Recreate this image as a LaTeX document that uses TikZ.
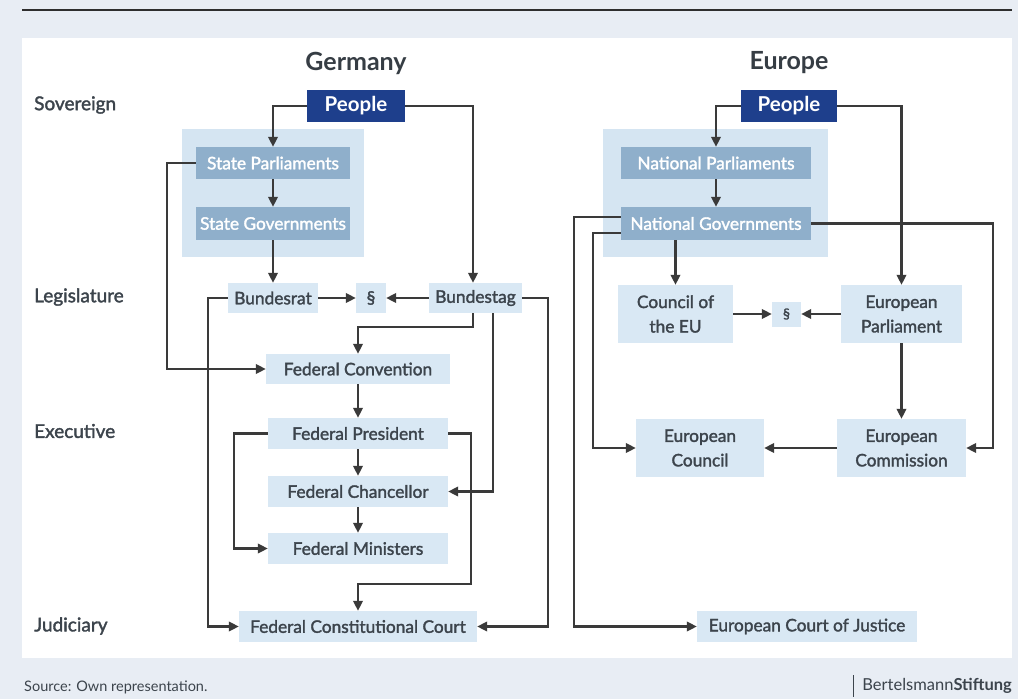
\documentclass[tikz,border=0pt]{standalone}
\usepackage{fontspec}
\setmainfont{Lato}
\newfontfamily\boxfont[FakeBold=1.8]{Lato}
\usetikzlibrary{arrows.meta}
\definecolor{bgc}{HTML}{E8EDF4}
\definecolor{groupc}{HTML}{D5E5F2}
\definecolor{nodec}{HTML}{D9E8F4}
\definecolor{midc}{HTML}{8FAFCB}
\definecolor{peoplec}{HTML}{1E3F8C}
\definecolor{textc}{HTML}{3C444C}
\definecolor{linec}{HTML}{3A3A3A}
\begin{document}
\begin{tikzpicture}[x=1pt,y=-1pt,
  conn/.style={draw=linec, line width=2.2pt},
  arr/.style={conn,-{Triangle[length=10pt,width=9.5pt]}},
  base/.style={inner sep=0pt, anchor=center, align=center},
  lbox/.style={base, fill=nodec, text=textc, font=\boxfont\fontsize{17.3}{24.5}\selectfont},
  mbox/.style={base, fill=midc, text=white, font=\boxfont\fontsize{17.3}{24}\selectfont},
  pbox/.style={base, fill=peoplec, text=white, font=\bfseries\fontsize{20.5}{22}\selectfont},
  title/.style={anchor=center, text=textc!90!black, font=\bfseries\fontsize{25}{28}\selectfont},
  rowlab/.style={anchor=west, inner sep=0pt, text=textc, font=\boxfont\fontsize{19}{22}\selectfont},
  group/.style={fill=groupc, draw=none}
]
\fill[bgc] (0,0) rectangle (1018,699);
\useasboundingbox (0,0) rectangle (1018,699);
\draw[linec!80!black, line width=2pt] (22,10) -- (1012,10);
\fill[white] (22,38) rectangle (1012,658);

% titles and rows
\node[title] (tG) at (356,63) {Germany};
\node[title] (tE) at (789,63) {Europe};
\node[rowlab] (r1) at (34,105) {Sovereign};
\node[rowlab] (r2) at (34,297) {Legislature};
\node[rowlab] (r3) at (34,431) {Executive};
\node[rowlab] (r4) at (34,626) {Judiciary};

% groups
\fill[groupc] (182,129) rectangle (364,257);
\fill[groupc] (603,129) rectangle (828,257);

% Germany
\node[pbox, minimum width=98pt, minimum height=32pt] (pG) at (356,106) {People};
\node[mbox, minimum width=154pt, minimum height=32pt] (sp) at (273,163) {State Parliaments};
\node[mbox, minimum width=154pt, minimum height=33pt] (sg) at (273,223.5) {State Governments};
\node[lbox, minimum width=90pt, minimum height=30pt] (br) at (273,298) {Bundesrat};
\node[lbox, minimum width=30pt, minimum height=30pt] (sG) at (371,298) {\S};
\node[lbox, minimum width=93pt, minimum height=30pt] (bt) at (475.5,298) {Bundestag};
\node[lbox, minimum width=184pt, minimum height=30pt] (fc) at (358,369) {Federal Convention};
\node[lbox, minimum width=180pt, minimum height=31pt] (fp) at (358,433.5) {Federal President};
\node[lbox, minimum width=180pt, minimum height=31pt] (fch) at (358,491.5) {Federal Chancellor};
\node[lbox, minimum width=180pt, minimum height=31pt] (fm) at (358,548.5) {Federal Ministers};
\node[lbox, minimum width=238pt, minimum height=31pt] (fcc) at (358,626.5) {Federal Constitutional Court};

% Europe
\node[pbox, minimum width=96pt, minimum height=32pt] (pE) at (789,106) {People};
\node[mbox, minimum width=190pt, minimum height=32pt] (np) at (716,163) {National Parliaments};
\node[mbox, minimum width=190pt, minimum height=33pt] (ng) at (716,223.5) {National Governments};
\node[lbox, minimum width=115pt, minimum height=58pt] (cou) at (675.5,314) {Council of\\the EU};
\node[lbox, minimum width=29pt, minimum height=25pt, font=\boxfont\fontsize{14}{16}\selectfont] (sE) at (786.5,314) {\S};
\node[lbox, minimum width=121pt, minimum height=58pt] (ep) at (901.5,314) {European\\Parliament};
\node[lbox, minimum width=128pt, minimum height=58pt] (eco) at (700,448) {European\\Council};
\node[lbox, minimum width=129pt, minimum height=58pt] (com) at (901.5,448) {European\\Commission};
\node[lbox, minimum width=220pt, minimum height=31pt] (ecj) at (807,626.5) {European Court of Justice};

% Germany connectors
\draw[arr] (pG.west) -| (sp.north);
\draw[arr] (pG.east) -| ([xshift=-2.5pt]bt.north);
\draw[arr] (sp.south) -- (sg.north);
\draw[arr] (sg.south) -- (br.north);
\draw[arr] (br.east) -- (sG.west);
\draw[arr] (bt.west) -- (sG.east);
\draw[arr] (sp.west) -- ++(-29,0) |- (fc.west);
\draw[arr] ([xshift=-2.5pt]bt.south) -- ++(0,14) -| (fc.north);
\draw[arr] ([xshift=17.5pt]bt.south) |- (fch.east);
\draw[arr] (bt.east) -- ++(26,0) |- (fcc.east);
\draw[arr] (br.west) -- ++(-20,0) |- (fcc.west);
\draw[arr] (fc.south) -- (fp.north);
\draw[arr] (fp.south) -- (fch.north);
\draw[arr] (fch.south) -- (fm.north);
\draw[arr] (fp.west) -- ++(-34,0) |- (fm.west);
\draw[arr] (fp.east) -- ++(23,0) |- ([yshift=27pt]fcc.north) -- (fcc.north);

% Europe connectors
\draw[arr] (pE.west) -| (np.north);
\draw[arr] (pE.east) -| (ep.north);
\draw[arr] (np.south) -- (ng.north);
\draw[arr] (ng.south -| cou.north) -- (cou.north);
\draw[arr] (cou.east) -- (sE.west);
\draw[arr] (ep.west) -- (sE.east);
\draw[arr] ([yshift=6.5pt]ng.west) -- ++(-47,0) |- (ecj.west);
\draw[arr] ([yshift=-9.5pt]ng.west) -- ++(-28,0) |- (eco.west);
\draw[arr] (ng.east) -- ++(182,0) |- (com.east);
\draw[arr] (ep.south) -- (com.north);
\draw[arr] (com.west) -- (eco.east);

% footer
\node[anchor=west, inner sep=0pt, text=textc, font=\fontsize{14.5}{17}\selectfont] (src) at (24,687) {Source: Own representation.};
\node[anchor=east, inner sep=0pt, text=textc, font=\fontsize{16.5}{19}\selectfont] (bs) at (1012,686) {Bertelsmann\textbf{Stiftung}};
\draw[textc, line width=1pt] ([xshift=-9pt,yshift=11pt]bs.west) -- ([xshift=-9pt,yshift=-11pt]bs.west);
\end{tikzpicture}
\end{document}
